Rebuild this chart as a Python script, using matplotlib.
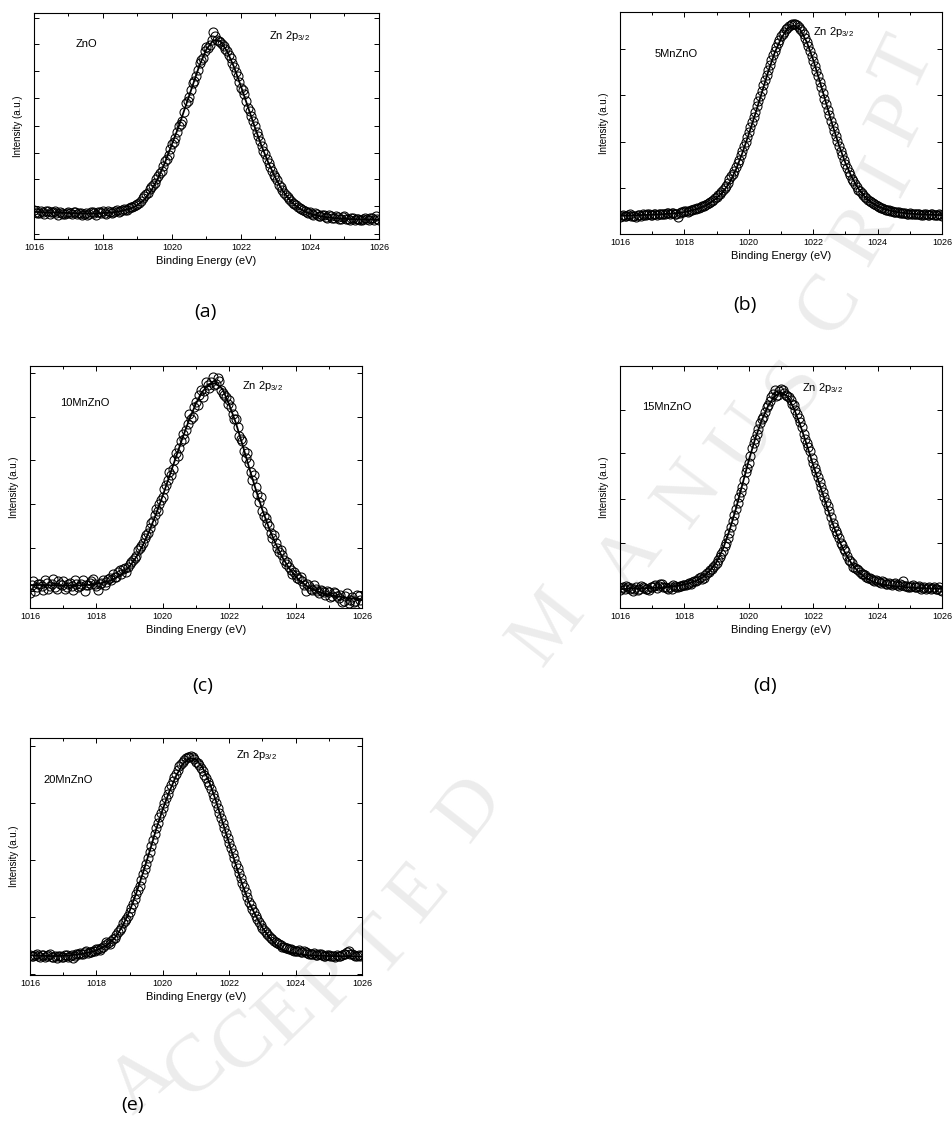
import numpy as np
import matplotlib
matplotlib.use("Agg")
import matplotlib.pyplot as plt
from matplotlib.ticker import MultipleLocator

plt.rcParams['font.family'] = ['Liberation Sans', 'DejaVu Sans']
plt.rcParams['mathtext.default'] = 'regular'

# energy grids: two interleaved sets of measured points, and the fitted curve
energy = np.linspace(1016, 1026, 101)
energy2 = np.linspace(1016.05, 1025.95, 100)
energy_fit = np.linspace(1016, 1026, 51)

samples = ['ZnO', '5MnZnO', '10MnZnO', '15MnZnO', '20MnZnO']
panel_tags = ['(a)', '(b)', '(c)', '(d)', '(e)']

zno_pts = [0.13, 0.115, 0.125, 0.11, 0.122, 0.118, 0.125, 0.108, 0.117, 0.112,
           0.12, 0.109, 0.118, 0.113, 0.107, 0.116, 0.111, 0.12, 0.108, 0.118,
           0.122, 0.112, 0.121, 0.118, 0.128, 0.125, 0.132, 0.13, 0.14, 0.145,
           0.155, 0.17, 0.19, 0.205, 0.23, 0.25, 0.28, 0.3, 0.345, 0.37,
           0.42, 0.445, 0.5, 0.52, 0.6, 0.63, 0.69, 0.72, 0.78, 0.8,
           0.85, 0.86, 0.915, 0.88, 0.87, 0.855, 0.83, 0.8, 0.76, 0.72,
           0.67, 0.64, 0.58, 0.545, 0.5, 0.455, 0.41, 0.375, 0.335, 0.3,
           0.275, 0.24, 0.215, 0.195, 0.178, 0.16, 0.15, 0.138, 0.13, 0.12,
           0.118, 0.105, 0.11, 0.1, 0.106, 0.095, 0.103, 0.092, 0.098, 0.09,
           0.1, 0.088, 0.093, 0.085, 0.09, 0.083, 0.095, 0.084, 0.092, 0.1, 0.085]
zno_pts2 = [0.12, 0.113, 0.119, 0.124, 0.11, 0.121, 0.114, 0.12, 0.109, 0.116,
            0.113, 0.121, 0.11, 0.117, 0.112, 0.108, 0.118, 0.114, 0.121, 0.113,
            0.117, 0.124, 0.115, 0.126, 0.121, 0.13, 0.128, 0.138, 0.14, 0.152,
            0.16, 0.18, 0.2, 0.22, 0.24, 0.265, 0.29, 0.325, 0.355, 0.4,
            0.43, 0.475, 0.51, 0.56, 0.61, 0.66, 0.7, 0.75, 0.79, 0.83,
            0.845, 0.88, 0.9, 0.875, 0.865, 0.84, 0.815, 0.78, 0.74, 0.695,
            0.66, 0.61, 0.565, 0.52, 0.475, 0.435, 0.39, 0.355, 0.32, 0.285,
            0.26, 0.23, 0.205, 0.185, 0.168, 0.155, 0.143, 0.132, 0.126, 0.115,
            0.11, 0.115, 0.102, 0.108, 0.097, 0.104, 0.094, 0.1, 0.088, 0.096,
            0.09, 0.085, 0.095, 0.088, 0.082, 0.09, 0.087, 0.095, 0.083, 0.09]
zno_fit = [0.12, 0.119, 0.118, 0.117, 0.116, 0.115, 0.114, 0.113, 0.113, 0.114,
           0.115, 0.117, 0.12, 0.126, 0.135, 0.15, 0.175, 0.215, 0.27, 0.34,
           0.42, 0.5, 0.59, 0.68, 0.77, 0.84, 0.88, 0.875, 0.83, 0.76,
           0.675, 0.585, 0.495, 0.41, 0.335, 0.27, 0.215, 0.175, 0.145, 0.125,
           0.112, 0.104, 0.098, 0.094, 0.091, 0.089, 0.088, 0.087, 0.086, 0.086, 0.085]

mn5_pts = [0.078, 0.085, 0.08, 0.088, 0.083, 0.078, 0.087, 0.09, 0.084, 0.089,
           0.086, 0.091, 0.088, 0.092, 0.089, 0.095, 0.093, 0.09, 0.078, 0.1,
           0.105, 0.1, 0.108, 0.112, 0.116, 0.122, 0.128, 0.136, 0.145, 0.155,
           0.168, 0.18, 0.198, 0.215, 0.25, 0.27, 0.3, 0.335, 0.375, 0.415,
           0.46, 0.505, 0.55, 0.6, 0.645, 0.695, 0.74, 0.785, 0.825, 0.86,
           0.89, 0.912, 0.93, 0.942, 0.945, 0.94, 0.925, 0.9, 0.865, 0.825,
           0.78, 0.735, 0.685, 0.635, 0.585, 0.535, 0.485, 0.44, 0.395, 0.355,
           0.315, 0.28, 0.25, 0.225, 0.2, 0.185, 0.165, 0.155, 0.142, 0.135,
           0.125, 0.118, 0.112, 0.11, 0.104, 0.1, 0.098, 0.095, 0.096, 0.092,
           0.094, 0.09, 0.088, 0.092, 0.087, 0.09, 0.086, 0.089, 0.084, 0.088, 0.083]
mn5_pts2 = [0.082, 0.079, 0.086, 0.081, 0.08, 0.085, 0.083, 0.087, 0.088, 0.085,
            0.09, 0.087, 0.09, 0.089, 0.093, 0.091, 0.094, 0.088, 0.096, 0.098,
            0.102, 0.104, 0.106, 0.114, 0.119, 0.125, 0.132, 0.14, 0.15, 0.16,
            0.174, 0.19, 0.205, 0.23, 0.26, 0.285, 0.318, 0.355, 0.395, 0.438,
            0.483, 0.528, 0.575, 0.622, 0.67, 0.718, 0.762, 0.805, 0.843, 0.876,
            0.902, 0.922, 0.937, 0.944, 0.944, 0.934, 0.914, 0.884, 0.846, 0.803,
            0.758, 0.71, 0.66, 0.61, 0.56, 0.51, 0.462, 0.418, 0.375, 0.335,
            0.298, 0.265, 0.238, 0.212, 0.192, 0.175, 0.16, 0.148, 0.138, 0.13,
            0.122, 0.115, 0.108, 0.106, 0.102, 0.099, 0.097, 0.093, 0.094, 0.091,
            0.092, 0.089, 0.09, 0.086, 0.088, 0.085, 0.09, 0.086, 0.087, 0.085]
mn5_fit = [0.082, 0.083, 0.084, 0.085, 0.086, 0.087, 0.088, 0.09, 0.092, 0.095,
           0.099, 0.105, 0.113, 0.124, 0.14, 0.162, 0.19, 0.23, 0.29, 0.365,
           0.45, 0.54, 0.635, 0.73, 0.815, 0.88, 0.925, 0.94, 0.92, 0.865,
           0.785, 0.69, 0.59, 0.49, 0.4, 0.32, 0.255, 0.205, 0.168, 0.142,
           0.125, 0.113, 0.105, 0.099, 0.095, 0.092, 0.09, 0.088, 0.087, 0.086, 0.085]

mn10_pts = [0.06, 0.11, 0.085, 0.1, 0.075, 0.105, 0.09, 0.12, 0.08, 0.1,
            0.11, 0.085, 0.105, 0.075, 0.1, 0.09, 0.115, 0.095, 0.105, 0.12,
            0.09, 0.1, 0.115, 0.108, 0.125, 0.14, 0.13, 0.155, 0.16, 0.15,
            0.18, 0.2, 0.215, 0.25, 0.27, 0.3, 0.33, 0.36, 0.41, 0.43,
            0.46, 0.51, 0.56, 0.575, 0.64, 0.66, 0.72, 0.735, 0.8, 0.79,
            0.85, 0.88, 0.87, 0.935, 0.91, 0.955, 0.925, 0.94, 0.89, 0.87,
            0.86, 0.8, 0.78, 0.71, 0.69, 0.62, 0.6, 0.53, 0.5, 0.44,
            0.4, 0.37, 0.34, 0.29, 0.27, 0.23, 0.22, 0.18, 0.17, 0.14,
            0.135, 0.12, 0.11, 0.07, 0.09, 0.075, 0.08, 0.06, 0.07, 0.055,
            0.065, 0.05, 0.06, 0.04, 0.025, 0.05, 0.02, 0.045, 0.03, 0.05, 0.015]
mn10_pts2 = [0.095, 0.07, 0.1, 0.09, 0.115, 0.08, 0.098, 0.085, 0.11, 0.095,
             0.08, 0.1, 0.092, 0.115, 0.085, 0.1, 0.07, 0.095, 0.11, 0.1,
             0.075, 0.105, 0.095, 0.12, 0.115, 0.13, 0.15, 0.14, 0.165, 0.17,
             0.19, 0.205, 0.24, 0.255, 0.29, 0.31, 0.35, 0.385, 0.4, 0.445,
             0.49, 0.53, 0.55, 0.61, 0.63, 0.69, 0.7, 0.76, 0.78, 0.83,
             0.84, 0.9, 0.895, 0.92, 0.935, 0.92, 0.95, 0.9, 0.88, 0.845,
             0.83, 0.78, 0.75, 0.7, 0.65, 0.64, 0.56, 0.55, 0.47, 0.46,
             0.38, 0.35, 0.31, 0.3, 0.25, 0.24, 0.2, 0.19, 0.155, 0.15,
             0.125, 0.13, 0.095, 0.1, 0.08, 0.095, 0.07, 0.075, 0.065, 0.07,
             0.045, 0.065, 0.05, 0.055, 0.03, 0.06, 0.035, 0.025, 0.055, 0.035]
mn10_fit = [0.095, 0.095, 0.095, 0.094, 0.094, 0.093, 0.093, 0.093, 0.094, 0.096,
            0.099, 0.104, 0.112, 0.125, 0.145, 0.172, 0.21, 0.26, 0.32, 0.39,
            0.465, 0.545, 0.625, 0.705, 0.78, 0.845, 0.895, 0.925, 0.928, 0.905,
            0.84, 0.765, 0.675, 0.58, 0.49, 0.405, 0.33, 0.265, 0.21, 0.165,
            0.13, 0.105, 0.085, 0.072, 0.062, 0.055, 0.049, 0.045, 0.041, 0.038, 0.036]

mn15_pts = [0.075, 0.085, 0.09, 0.078, 0.072, 0.085, 0.078, 0.088, 0.08, 0.075,
            0.086, 0.095, 0.09, 0.098, 0.085, 0.08, 0.078, 0.09, 0.085, 0.092,
            0.095, 0.1, 0.098, 0.11, 0.115, 0.13, 0.125, 0.145, 0.155, 0.17,
            0.185, 0.21, 0.235, 0.27, 0.31, 0.36, 0.41, 0.46, 0.5, 0.56,
            0.6, 0.66, 0.7, 0.74, 0.78, 0.81, 0.84, 0.87, 0.9, 0.88,
            0.905, 0.89, 0.875, 0.86, 0.84, 0.8, 0.77, 0.72, 0.68, 0.65,
            0.6, 0.56, 0.52, 0.48, 0.44, 0.4, 0.35, 0.32, 0.29, 0.26,
            0.235, 0.2, 0.185, 0.165, 0.155, 0.14, 0.135, 0.125, 0.12, 0.112,
            0.11, 0.105, 0.108, 0.1, 0.098, 0.1, 0.093, 0.098, 0.11, 0.09,
            0.088, 0.094, 0.085, 0.09, 0.083, 0.08, 0.086, 0.082, 0.078, 0.085, 0.07]
mn15_pts2 = [0.082, 0.077, 0.088, 0.083, 0.08, 0.073, 0.09, 0.083, 0.079, 0.088,
             0.09, 0.084, 0.1, 0.087, 0.082, 0.088, 0.095, 0.087, 0.09, 0.094,
             0.097, 0.104, 0.107, 0.112, 0.122, 0.118, 0.138, 0.15, 0.162, 0.178,
             0.198, 0.222, 0.255, 0.29, 0.335, 0.385, 0.435, 0.48, 0.53, 0.58,
             0.63, 0.68, 0.72, 0.765, 0.79, 0.83, 0.855, 0.885, 0.875, 0.895,
             0.9, 0.88, 0.87, 0.845, 0.82, 0.785, 0.75, 0.7, 0.665, 0.62,
             0.58, 0.54, 0.5, 0.46, 0.42, 0.375, 0.335, 0.305, 0.27, 0.245,
             0.215, 0.195, 0.17, 0.16, 0.148, 0.14, 0.128, 0.122, 0.115, 0.114,
             0.106, 0.11, 0.101, 0.104, 0.096, 0.102, 0.09, 0.095, 0.092, 0.087,
             0.092, 0.087, 0.088, 0.08, 0.086, 0.082, 0.079, 0.085, 0.08, 0.076]
mn15_fit = [0.078, 0.079, 0.08, 0.081, 0.082, 0.083, 0.084, 0.086, 0.088, 0.092,
            0.097, 0.104, 0.114, 0.13, 0.155, 0.19, 0.245, 0.32, 0.41, 0.51,
            0.61, 0.7, 0.775, 0.835, 0.875, 0.89, 0.875, 0.825, 0.755, 0.675,
            0.59, 0.51, 0.43, 0.35, 0.28, 0.225, 0.182, 0.15, 0.128, 0.112,
            0.102, 0.096, 0.092, 0.089, 0.087, 0.085, 0.083, 0.082, 0.081, 0.08, 0.079]

mn20_pts = [0.085, 0.08, 0.09, 0.078, 0.085, 0.08, 0.087, 0.075, 0.073, 0.082,
            0.078, 0.085, 0.08, 0.073, 0.088, 0.093, 0.09, 0.1, 0.095, 0.103,
            0.108, 0.105, 0.12, 0.14, 0.13, 0.15, 0.17, 0.19, 0.22, 0.235,
            0.265, 0.3, 0.34, 0.375, 0.425, 0.47, 0.52, 0.57, 0.62, 0.665,
            0.705, 0.745, 0.785, 0.82, 0.85, 0.88, 0.9, 0.915, 0.92, 0.918,
            0.9, 0.885, 0.86, 0.83, 0.8, 0.765, 0.725, 0.685, 0.64, 0.6,
            0.555, 0.515, 0.47, 0.43, 0.39, 0.35, 0.31, 0.28, 0.25, 0.225,
            0.2, 0.18, 0.165, 0.15, 0.14, 0.13, 0.12, 0.115, 0.11, 0.105,
            0.1, 0.105, 0.098, 0.095, 0.09, 0.088, 0.085, 0.09, 0.083, 0.08,
            0.085, 0.08, 0.078, 0.082, 0.085, 0.09, 0.1, 0.09, 0.08, 0.085, 0.083]
mn20_pts2 = [0.082, 0.086, 0.08, 0.083, 0.078, 0.083, 0.077, 0.08, 0.079, 0.075,
             0.083, 0.078, 0.085, 0.082, 0.09, 0.087, 0.095, 0.093, 0.099, 0.1,
             0.11, 0.113, 0.125, 0.135, 0.142, 0.158, 0.18, 0.2, 0.228, 0.25,
             0.283, 0.32, 0.358, 0.4, 0.448, 0.495, 0.545, 0.595, 0.642, 0.685,
             0.725, 0.765, 0.8, 0.835, 0.865, 0.89, 0.908, 0.918, 0.922, 0.91,
             0.893, 0.872, 0.845, 0.815, 0.783, 0.745, 0.705, 0.662, 0.62, 0.578,
             0.535, 0.492, 0.45, 0.41, 0.37, 0.33, 0.295, 0.265, 0.238, 0.212,
             0.19, 0.172, 0.158, 0.145, 0.135, 0.125, 0.118, 0.112, 0.108, 0.1,
             0.103, 0.096, 0.1, 0.092, 0.089, 0.092, 0.086, 0.088, 0.082, 0.084,
             0.082, 0.079, 0.085, 0.08, 0.088, 0.095, 0.088, 0.083, 0.081, 0.08]
mn20_fit = [0.083, 0.082, 0.081, 0.08, 0.08, 0.081, 0.083, 0.086, 0.09, 0.096,
            0.104, 0.116, 0.135, 0.165, 0.21, 0.27, 0.345, 0.43, 0.52, 0.615,
            0.7, 0.775, 0.84, 0.89, 0.915, 0.91, 0.875, 0.815, 0.735, 0.645,
            0.555, 0.465, 0.38, 0.305, 0.25, 0.2, 0.16, 0.128, 0.108, 0.097,
            0.09, 0.086, 0.083, 0.082, 0.081, 0.08, 0.08, 0.079, 0.079, 0.078, 0.078]

points = [zno_pts, mn5_pts, mn10_pts, mn15_pts, mn20_pts]
points2 = [zno_pts2, mn5_pts2, mn10_pts2, mn15_pts2, mn20_pts2]
fits = [zno_fit, mn5_fit, mn10_fit, mn15_fit, mn20_fit]

# layout in pixels: left, top, right, bottom of each plot box
boxes = [(34, 13, 379, 239), (620, 12, 942, 234), (30, 366, 362, 608),
         (620, 366, 942, 608), (30, 738, 362, 975)]
ytick_sets = [[0.022, 0.146, 0.265, 0.38, 0.5, 0.624, 0.743, 0.863, 0.98],
              [0.0, 0.207, 0.416, 0.626, 0.835],
              [0.07, 0.25, 0.43, 0.61, 0.79, 0.97],
              [0.09, 0.27, 0.45, 0.64, 0.82, 1.0],
              [0.006, 0.246, 0.486, 0.725, 0.965]]
name_pos = [(1017.2, 0.865), (1017.06, 0.81), (1016.9, 0.846), (1016.7, 0.83), (1016.4, 0.824)]
line_pos = [(1022.8, 0.9), (1022.0, 0.91), (1022.4, 0.917), (1021.64, 0.91), (1022.2, 0.93)]
tag_pos = [(205, 312), (745, 305), (203, 686), (765, 686), (133, 1105)]

W, H = 953, 1136
fig = plt.figure(figsize=(W / 100, H / 100), dpi=100)

# faint "ACCEPTED MANUSCRIPT" stamp behind the plots
stamp = "ACCEPTEDMANUSCRIPT"
stamp_xy = [(142, 1082), (196, 1068), (244, 1044), (287, 1016), (332, 984), (382, 948),
            (420, 893), (472, 810), (548, 628), (630, 560), (690, 495), (745, 440),
            (795, 385), (830, 305), (865, 235), (888, 178), (900, 120), (905, 65)]
stamp_rot = [40, 40, 42, 44, 46, 48, 50, 52, 52, 52, 53, 54, 55, 57, 59, 61, 63, 64]
for ch, (sx, sy), r in zip(stamp, stamp_xy, stamp_rot):
    fig.text(sx / W, 1 - sy / H, ch, fontsize=58, family='Liberation Serif',
             color='#ececec', rotation=r, ha='center', va='center', zorder=-5)

for i in range(5):
    l, t, r, b = boxes[i]
    ax = fig.add_axes([l / W, 1 - b / H, (r - l) / W, (b - t) / H])
    ax.patch.set_alpha(0)
    ax.plot(energy, points[i], 'o', ms=6.5, mfc='none', mec='black', mew=0.75, zorder=2)
    ax.plot(energy2, points2[i], 'o', ms=6.5, mfc='none', mec='black', mew=0.75, zorder=2)
    ax.plot(energy_fit, fits[i], '-', color='black', lw=1.3, zorder=3)
    ax.set_xlim(1016, 1026)
    ax.set_ylim(0, 1)
    ax.xaxis.set_major_locator(MultipleLocator(2))
    ax.xaxis.set_minor_locator(MultipleLocator(1))
    ax.set_yticks(ytick_sets[i])
    ax.tick_params(which='both', direction='in', top=True, right=True,
                   labelleft=False, labelsize=6.5, width=0.7, pad=3)
    ax.tick_params(which='major', length=3.5)
    ax.tick_params(which='minor', length=2)
    for sp in ax.spines.values():
        sp.set_linewidth(0.8)
    ax.set_xlabel('Binding Energy (eV)', fontsize=8, labelpad=3)
    ax.set_ylabel('Intensity (a.u.)', fontsize=7, labelpad=8)
    ax.text(name_pos[i][0], name_pos[i][1], samples[i], fontsize=8, va='center')
    ax.text(line_pos[i][0], line_pos[i][1], 'Zn 2p$_{3/2}$', fontsize=8, va='center')
    fig.text(tag_pos[i][0] / W, 1 - tag_pos[i][1] / H, panel_tags[i], fontsize=14,
             family='Open Sans', ha='center', va='center')

fig.savefig('out.png', dpi=100)
